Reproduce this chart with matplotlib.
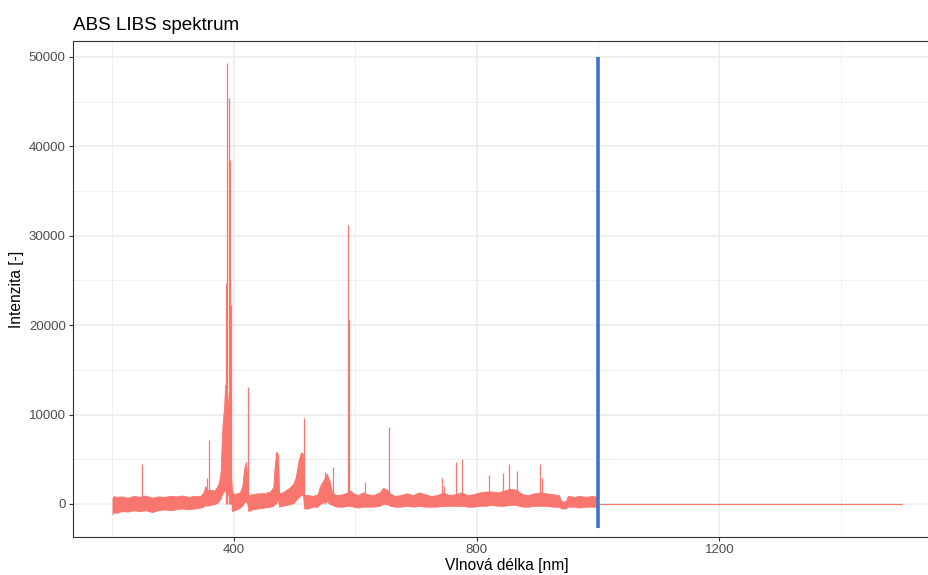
import matplotlib
matplotlib.use("Agg")
import matplotlib.pyplot as plt
from matplotlib.ticker import MultipleLocator

plt.rcParams["font.family"] = ["Liberation Sans", "DejaVu Sans"]

# noisy continuum of the spectrum: wavelength, lower and upper edge of the band
band_nm = [200, 202, 206, 215, 225, 235, 245, 255, 265, 275, 285, 295, 305, 315, 325, 335, 345,
           350, 353, 356, 362, 368, 372, 375, 377, 378.5, 379.5, 381.5, 384, 385.5, 388, 391, 394,
           395.5, 397, 400, 405, 410, 414, 417, 420, 422, 424, 430, 440, 450, 460, 465, 467, 470,
           473, 474.5, 480, 487, 493, 498, 502, 507, 511, 514, 516, 522, 530, 538, 542, 548, 553,
           558, 562, 570, 580, 587, 592, 597, 605, 612, 620, 630, 640, 646, 652, 657, 665, 675,
           685, 695, 705, 715, 725, 735, 745, 755, 765, 775, 785, 795, 805, 815, 825, 835, 845,
           855, 865, 875, 885, 895, 905, 915, 925, 935, 940, 947, 950, 960, 970, 980, 990, 999]
band_low = [-1150, -900, -1000, -800, -850, -700, -800, -700, -900, -700, -600, -700, -600, -500,
            -600, -500, -400, -300, -100, -200, -100, 0, 100, 300, 500, 700, 900, 1200, 1500, 1500,
            1200, 1000, 800, 500, -800, -700, -600, -400, -200, 200, 300, 100, -800, -600, -500,
            -400, -300, -200, 0, 300, 400, -300, -200, -100, 0, 100, 400, 800, 1000, 1000, -500,
            -500, -300, -300, 0, 200, 300, 0, -100, -300, -300, -200, -200, -300, -400, -300, -300,
            -300, -200, 0, 0, -200, -300, -300, -200, -300, -200, -300, -300, -300, -200, -200,
            -200, -200, -300, -300, -200, -200, -100, -200, -200, -100, -100, -300, -300, -200,
            -200, -200, -300, -300, -500, -500, -300, -300, -400, -300, -300, -300]
band_high = [650, 900, 800, 850, 700, 900, 800, 950, 700, 850, 800, 900, 850, 950, 800, 900, 900,
             1300, 2000, 1500, 1600, 1500, 1900, 2300, 3000, 3800, 6000, 9000, 10900, 13300, 13000,
             11000, 10000, 3000, 1500, 1100, 1200, 1300, 2000, 4000, 4700, 3000, 1000, 1100, 1200,
             1200, 1400, 1900, 4000, 5800, 5500, 1200, 1300, 1600, 1900, 2300, 3000, 5000, 5800,
             5600, 1000, 1000, 900, 1100, 2000, 2700, 3400, 2500, 1200, 1000, 1100, 1300, 1500,
             1200, 1000, 1300, 1100, 1000, 1300, 1800, 1600, 1200, 900, 1000, 1200, 1000, 1300,
             1100, 900, 1000, 1300, 1000, 1100, 1300, 1000, 1100, 1300, 1400, 1400, 1300, 1500,
             1700, 1600, 1100, 1000, 1200, 1300, 1200, 1100, 1000, 300, 300, 900, 800, 900, 800,
             900, 800]

# emission lines: wavelength and peak intensity
line_nm = [249, 356, 359.7, 387, 388.8, 392, 393.7, 394.7, 423, 470, 516, 549.5, 564, 588.3, 590,
           616, 656, 742.7, 747, 766.3, 776.6, 820, 843.5, 854, 866.5, 904.5, 908]
line_int = [4470, 2900, 7150, 24700, 49270, 45360, 38460, 22250, 13120, 5850, 9580, 3560, 4170,
            31190, 20570, 2500, 8650, 2900, 2000, 4700, 5000, 3250, 3500, 4470, 3730, 4470, 2900]

# flat part of the record above 1000 nm
tail_nm = [1000, 1500]
tail_int = [0, 0]

# cut-off marker
marker_nm = 1000
marker_from = -2700
marker_to = 50000

red = "#F8766D"
blue = "#4472C4"

fig = plt.figure(figsize=(9.29, 5.75), dpi=100)
ax = fig.add_axes([73 / 929, 38 / 575, 868 / 929, 496 / 575])

ax.fill_between(band_nm, band_low, band_high, color=red, linewidth=0.6, edgecolor=red, zorder=3)
ax.vlines(line_nm, 0, line_int, color=red, linewidth=0.9, zorder=3)
ax.plot(tail_nm, tail_int, color=red, linewidth=0.8, zorder=3)
ax.vlines(marker_nm, marker_from, marker_to, color=blue, linewidth=2.6, zorder=4)

ax.set_xlim(135, 1565)
ax.set_ylim(-3690, 51770)

ax.xaxis.set_major_locator(MultipleLocator(400))
ax.xaxis.set_minor_locator(MultipleLocator(200))
ax.yaxis.set_major_locator(MultipleLocator(10000))
ax.yaxis.set_minor_locator(MultipleLocator(5000))

ax.grid(which="major", color="#EBEBEB", linewidth=1.1, zorder=0)
ax.grid(which="minor", color="#EBEBEB", linewidth=0.55, zorder=0)
ax.set_axisbelow(True)

for s in ax.spines.values():
    s.set_color("#333333")
    s.set_linewidth(0.8)

ax.tick_params(which="major", length=2.75, width=0.8, color="#333333",
               labelcolor="#4D4D4D", labelsize=9.5, pad=2.5)
ax.tick_params(which="minor", length=0)

fig.text(73 / 929, 1 - 30 / 575, "ABS LIBS spektrum", fontsize=13.6, ha="left", va="baseline")
fig.text(507 / 929, 5 / 575, "Vlnová délka [nm]", fontsize=11.2, ha="center", va="baseline")
fig.text(17 / 929, 1 - 289 / 575, "Intenzita [-]", fontsize=11.2, rotation=90, ha="center", va="center")

fig.savefig("out.png", dpi=100)
